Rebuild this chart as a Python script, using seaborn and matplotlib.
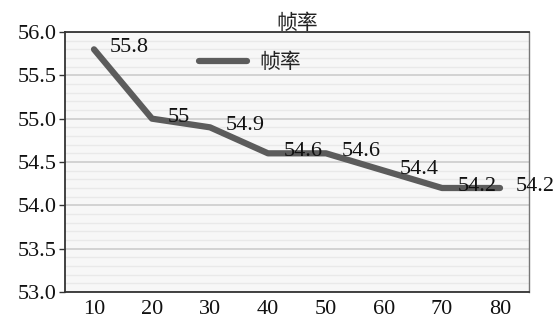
import numpy as np
import pandas as pd
import matplotlib
matplotlib.use("Agg")
import matplotlib.pyplot as plt
import seaborn as sns
from matplotlib.ticker import MultipleLocator

# --- data ---
categories = ["10", "20", "30", "40", "50", "60", "70", "80"]
fps = [55.8, 55.0, 54.9, 54.6, 54.6, 54.4, 54.2, 54.2]
point_labels = ["55.8", "55", "54.9", "54.6", "54.6", "54.4", "54.2", "54.2"]
series_name = "帧率"
y_ticks = [53.0, 53.5, 54.0, 54.5, 55.0, 55.5, 56.0]

df = pd.DataFrame({"x": categories, "y": fps})

sns.set_style("white")
serif = ["Liberation Serif", "DejaVu Serif"]
cjk = ["Noto Sans CJK SC", "DejaVu Sans"]

fig = plt.figure(figsize=(5.59, 3.23), dpi=100)
ax = fig.add_axes([65 / 559, 31 / 323, 464 / 559, 260 / 323])
ax.set_facecolor("#f7f7f7")

sns.lineplot(data=df, x="x", y="y", ax=ax, color="#5c5c5c", linewidth=4.5,
             label=series_name, sort=False)

# data labels to the right of each point
for i, (v, t) in enumerate(zip(fps, point_labels)):
    ax.annotate(t, (i, v), xytext=(11, 1), textcoords="offset points",
                ha="left", va="center", fontsize=16, family=serif,
                color="#111111", annotation_clip=False)

ax.set_xlim(-0.5, len(categories) - 0.5)
ax.set_ylim(53.0, 56.0)
ax.set_yticks(y_ticks)
ax.set_yticklabels([f"{t:.1f}" for t in y_ticks])
ax.yaxis.set_minor_locator(MultipleLocator(0.1))

ax.grid(which="major", axis="y", color="#d2d2d2", linewidth=1.4)
ax.grid(which="minor", axis="y", color="#e9e9e9", linewidth=1.0)
ax.set_axisbelow(True)

for lab in ax.get_xticklabels() + ax.get_yticklabels():
    lab.set_family(serif)
    lab.set_fontsize(16)
    lab.set_color("#111111")
ax.tick_params(axis="y", which="major", left=True, length=4, width=1,
               color="#333333", pad=2)
ax.tick_params(axis="y", which="minor", left=False)
ax.tick_params(axis="x", bottom=False, pad=2)

for side in ["left", "bottom", "top"]:
    ax.spines[side].set_color("#333333")
    ax.spines[side].set_linewidth(1.3)
ax.spines["right"].set_color("#777777")
ax.spines["right"].set_linewidth(1.0)

ax.set_xlabel("")
ax.set_ylabel("")
ax.set_title(series_name, family=cjk, fontsize=15, color="#222222", pad=2)

leg = ax.legend(loc="center left", bbox_to_anchor=(0.27, 0.885), frameon=False,
                handlelength=2.3, handletextpad=0.6, borderaxespad=0,
                prop={"family": cjk, "size": 15})
for txt in leg.get_texts():
    txt.set_color("#222222")

fig.savefig("out.png", dpi=100, facecolor="white")
